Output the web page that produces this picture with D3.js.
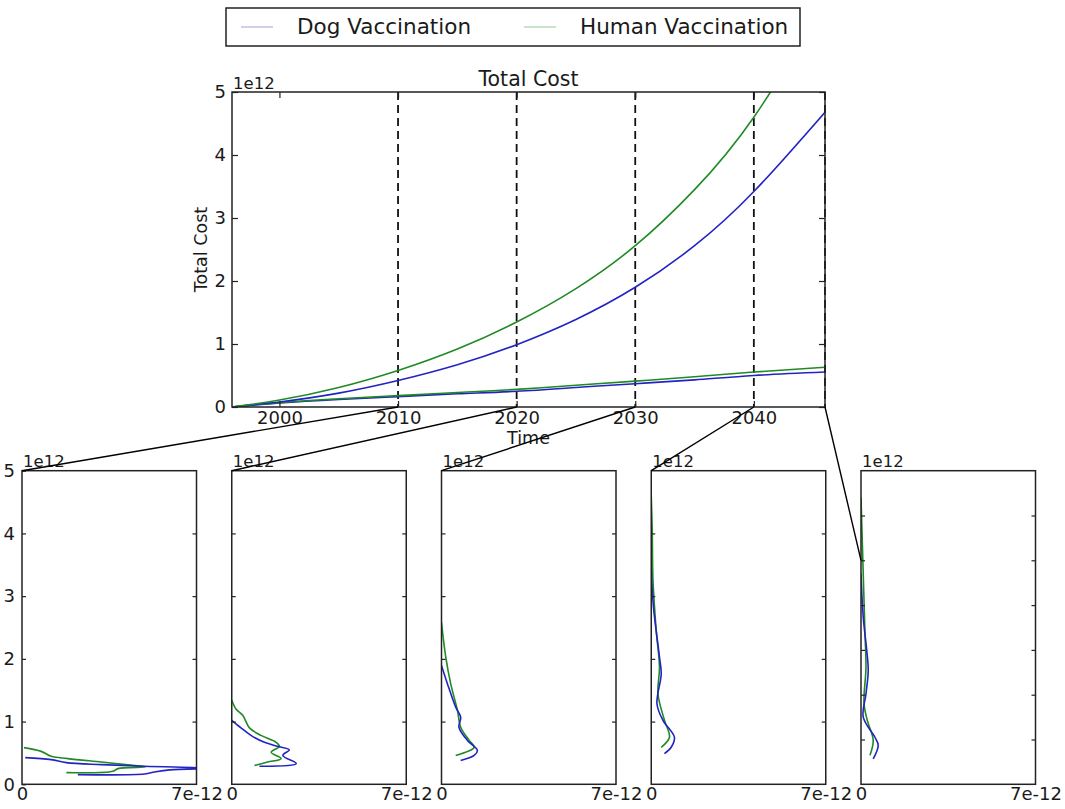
<!DOCTYPE html>
<html>
<head>
<meta charset="utf-8">
<script src="https://cdn.jsdelivr.net/npm/d3@7"></script>
<style>
  body { margin: 0; background: #fff; }
  text { font-family: "DejaVu Sans", sans-serif; fill: #1a1a1a; }
</style>
</head>
<body>
<svg id="chart"></svg>
<script>
// ---- Data (cost in 1e12, density in 1e-12) ----
const years = [1996, 2000, 2005, 2010, 2015, 2020, 2025, 2030, 2035, 2040, 2046];
const humanHigh = [0, 0.11, 0.31, 0.58, 0.92, 1.35, 1.88, 2.56, 3.45, 4.6, 6.4];
const dogHigh   = [0, 0.08, 0.22, 0.42, 0.67, 0.99, 1.39, 1.9, 2.56, 3.42, 4.68];
const humanLow  = [0, 0.07, 0.13, 0.18, 0.23, 0.28, 0.345, 0.41, 0.48, 0.555, 0.63];
const dogLow    = [0, 0.065, 0.12, 0.165, 0.21, 0.25, 0.31, 0.37, 0.43, 0.50, 0.555];

const markYears = [2010, 2020, 2030, 2040, 2046];
const xTicks = [2000, 2010, 2020, 2030, 2040];
const yTicks = [0, 1, 2, 3, 4, 5];

// snapshot panels: one per marked year
const panelMax = [5, 5, 5, 5, 7];
const dogDist = [
  [[2.24, 0.155], [4.92, 0.164], [5.32, 0.196], [5.93, 0.23], [7.6, 0.255], [4.92, 0.287], [3.18, 0.314], [1.78, 0.346], [1.17, 0.393], [0.13, 0.425]],
  [[1.11, 0.287], [2.59, 0.33], [2.05, 0.46], [2.31, 0.55], [1.84, 0.605], [1.31, 0.67], [0.77, 0.78], [0.37, 0.9], [0, 1.02]],
  [[0.77, 0.38], [1.31, 0.46], [1.44, 0.54], [1.04, 0.7], [0.7, 0.91], [0.77, 1.07], [0.57, 1.23], [0.24, 1.6], [0, 1.895]],
  [[0.53, 0.49], [0.8, 0.59], [0.93, 0.75], [0.47, 1.02], [0.23, 1.28], [0.4, 1.76], [0.33, 2.03], [0.09, 2.82], [0, 3.43]],
  [[0.49, 0.57], [0.69, 0.87], [0.56, 1.05], [0.09, 1.5], [0.2, 2.02], [0.29, 2.54], [0.23, 2.99], [0.09, 3.73], [0, 4.7]]
];
const humanDist = [
  [[1.78, 0.186], [3.65, 0.207], [3.85, 0.25], [4.95, 0.278], [4.25, 0.31], [3.18, 0.355], [1.84, 0.41], [1.17, 0.446], [0.77, 0.525], [0.08, 0.585]],
  [[0.91, 0.3], [1.44, 0.355], [1.98, 0.41], [1.58, 0.51], [1.91, 0.605], [1.78, 0.67], [1.17, 0.78], [0.71, 0.9], [0.44, 1.1], [0.17, 1.2], [0, 1.34]],
  [[0.57, 0.46], [1.31, 0.59], [1.11, 0.7], [0.77, 0.91], [0.64, 1.18], [0.37, 1.6], [0.17, 2.03], [0, 2.58]],
  [[0.4, 0.59], [0.73, 0.75], [0.53, 1.02], [0.27, 1.44], [0.33, 1.87], [0.2, 2.45], [0.07, 3.25], [0.04, 4.04], [0, 4.6]],
  [[0.36, 0.65], [0.49, 0.98], [0.25, 1.43], [0.12, 1.8], [0.2, 2.61], [0.16, 3.36], [0.07, 5.07], [0, 6.4]]
];

// ---- Config ----
const width = 1065, height = 809;
const blue = "#2323c4", green = "#1f8a24";
const frameColor = "#222";
const tickFont = 18;

const svg = d3.select("#chart").attr("width", width).attr("height", height);
svg.append("rect").attr("width", width).attr("height", height).attr("fill", "#fff");
const defs = svg.append("defs");

// ---- Main chart ----
const main = { left: 232, right: 825, top: 92, bottom: 407 };
const x = d3.scaleLinear().domain([1996, 2046]).range([main.left, main.right]);
const y = d3.scaleLinear().domain([0, 5]).range([main.bottom, main.top]);

defs.append("clipPath").attr("id", "clip-main")
  .append("rect")
  .attr("x", main.left).attr("y", main.top)
  .attr("width", main.right - main.left).attr("height", main.bottom - main.top);

const gMain = svg.append("g");

// dashed markers
gMain.selectAll(".mark")
  .data(markYears)
  .join("line")
  .attr("x1", d => x(d)).attr("x2", d => x(d))
  .attr("y1", main.top).attr("y2", main.bottom)
  .attr("stroke", "#111").attr("stroke-width", 1.8)
  .attr("stroke-dasharray", "8,5");

const line = d3.line()
  .x((d, i) => x(years[i]))
  .y(d => y(d))
  .curve(d3.curveNatural);

const series = [
  { values: dogLow, color: blue },
  { values: humanLow, color: green },
  { values: dogHigh, color: blue },
  { values: humanHigh, color: green }
];
gMain.append("g").attr("clip-path", "url(#clip-main)")
  .selectAll("path")
  .data(series)
  .join("path")
  .attr("d", d => line(d.values))
  .attr("fill", "none")
  .attr("stroke", d => d.color)
  .attr("stroke-width", 1.6);

// axes (inward ticks on all sides)
function styleAxis(g) {
  g.select(".domain").remove();
  g.selectAll(".tick line").attr("stroke", frameColor).attr("stroke-width", 1.2);
  g.selectAll(".tick text").style("font-size", tickFont + "px").attr("fill", "#1a1a1a");
}

gMain.append("g")
  .attr("transform", `translate(0,${main.bottom})`)
  .call(d3.axisBottom(x).tickValues(xTicks).tickFormat(d3.format("d")).tickSize(-6).tickPadding(4))
  .call(styleAxis);
gMain.append("g")
  .attr("transform", `translate(0,${main.top})`)
  .call(d3.axisTop(x).tickValues(xTicks).tickFormat("").tickSize(-6))
  .call(styleAxis);
gMain.append("g")
  .attr("transform", `translate(${main.left},0)`)
  .call(d3.axisLeft(y).tickValues(yTicks).tickFormat(d3.format("d")).tickSize(-6).tickPadding(6))
  .call(styleAxis);
gMain.append("g")
  .attr("transform", `translate(${main.right},0)`)
  .call(d3.axisRight(y).tickValues(yTicks).tickFormat("").tickSize(-6))
  .call(styleAxis);

gMain.append("rect")
  .attr("x", main.left).attr("y", main.top)
  .attr("width", main.right - main.left).attr("height", main.bottom - main.top)
  .attr("fill", "none").attr("stroke", frameColor).attr("stroke-width", 1.5);

gMain.append("text")
  .attr("x", (main.left + main.right) / 2).attr("y", 86)
  .attr("text-anchor", "middle").style("font-size", "20.5px")
  .text("Total Cost");
gMain.append("text")
  .attr("x", main.left + 1).attr("y", 89)
  .style("font-size", "16.5px")
  .text("1e12");
gMain.append("text")
  .attr("x", (main.left + main.right) / 2).attr("y", 444)
  .attr("text-anchor", "middle").style("font-size", "17.5px")
  .text("Time");
gMain.append("text")
  .attr("transform", `translate(207,${(main.top + main.bottom) / 2}) rotate(-90)`)
  .attr("text-anchor", "middle").style("font-size", "17.5px")
  .text("Total Cost");

// ---- Snapshot panels ----
const panel = { top: 470.7, bottom: 784.3, width: 174.5, step: 209.75, first: 22 };
const distLine = d3.line().curve(d3.curveCatmullRom.alpha(0.5));
const anchors = [];

markYears.forEach((yr, i) => {
  const left = panel.first + i * panel.step;
  const right = left + panel.width;
  const px = d3.scaleLinear().domain([0, 7]).range([left, right]);
  const py = d3.scaleLinear().domain([0, panelMax[i]]).range([panel.bottom, panel.top]);
  const g = svg.append("g");

  defs.append("clipPath").attr("id", "clip-p" + i)
    .append("rect")
    .attr("x", left).attr("y", panel.top)
    .attr("width", panel.width).attr("height", panel.bottom - panel.top);

  const dists = [
    { pts: humanDist[i], color: green },
    { pts: dogDist[i], color: blue }
  ];
  g.append("g").attr("clip-path", `url(#clip-p${i})`)
    .selectAll("path")
    .data(dists)
    .join("path")
    .attr("d", d => distLine(d.pts.map(p => [px(p[0]), py(p[1])])))
    .attr("fill", "none")
    .attr("stroke", d => d.color)
    .attr("stroke-width", 1.6);

  const inner = d3.range(1, panelMax[i]);
  const leftTicks = i === 0 ? yTicks : inner;
  g.append("g")
    .attr("transform", `translate(${left},0)`)
    .call(d3.axisLeft(py).tickValues(leftTicks).tickFormat(i === 0 ? d3.format("d") : "").tickSize(-4).tickPadding(7))
    .call(styleAxis);
  g.append("g")
    .attr("transform", `translate(${right},0)`)
    .call(d3.axisRight(py).tickValues(inner).tickFormat("").tickSize(-4))
    .call(styleAxis);
  g.append("g")
    .attr("transform", `translate(0,${panel.bottom})`)
    .call(d3.axisBottom(px).tickValues([0, 7]).tickFormat(d => d === 0 ? "0" : "7e-12").tickSize(0).tickPadding(3))
    .call(styleAxis);

  g.append("rect")
    .attr("x", left).attr("y", panel.top)
    .attr("width", panel.width).attr("height", panel.bottom - panel.top)
    .attr("fill", "none").attr("stroke", frameColor).attr("stroke-width", 1.5);

  g.append("text")
    .attr("x", left + 1).attr("y", 467)
    .style("font-size", "16.5px")
    .text("1e12");

  anchors.push({ from: [x(yr), y(0)], to: [px(0), py(5)] });
});

// ---- Connectors ----
svg.append("g")
  .selectAll("line")
  .data(anchors)
  .join("line")
  .attr("x1", d => d.from[0]).attr("y1", d => d.from[1])
  .attr("x2", d => d.to[0]).attr("y2", d => d.to[1])
  .attr("stroke", "#000").attr("stroke-width", 1.4);

// ---- Legend ----
const legend = svg.append("g");
legend.append("rect")
  .attr("x", 226).attr("y", 8).attr("width", 574).attr("height", 38)
  .attr("fill", "#fff").attr("stroke", frameColor).attr("stroke-width", 1.5);
const legendItems = [
  { label: "Dog Vaccination", color: "#c4c4e8", x: 241 },
  { label: "Human Vaccination", color: "#bcdcbc", x: 524 }
];
legendItems.forEach(d => {
  legend.append("line")
    .attr("x1", d.x).attr("x2", d.x + 32).attr("y1", 27).attr("y2", 27)
    .attr("stroke", d.color).attr("stroke-width", 1.6);
  legend.append("text")
    .attr("x", d.x + 56).attr("y", 34)
    .style("font-size", "21.5px")
    .text(d.label);
});
</script>
</body>
</html>
